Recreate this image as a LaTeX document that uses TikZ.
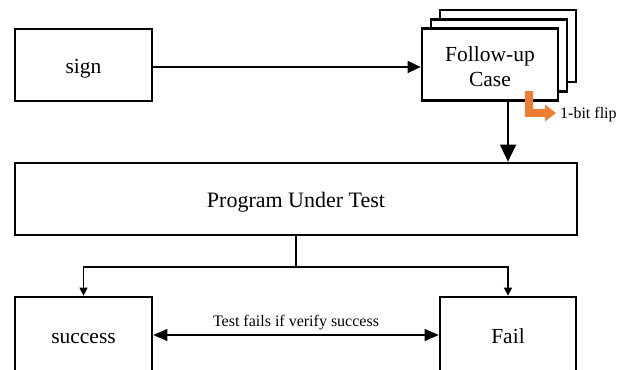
\documentclass[tikz,border=0pt]{standalone}
\usepackage{fontspec}
\setmainfont{Liberation Serif}
\usetikzlibrary{arrows.meta}
\definecolor{flip}{HTML}{ED7D31}
\tikzset{
  box/.style={draw=black, line width=2.7pt, fill=white, inner sep=0pt, font=\fontsize{21.5}{25}\selectfont, align=center, text height=16pt, text depth=0pt},
  label21/.style={inner sep=0pt, font=\fontsize{21.5}{25}\selectfont, align=center},
  conn/.style={draw=black, line width=1.2pt},
  bighead/.style={-{Triangle[length=17pt,width=16pt]}},
  midhead/.style={-{Triangle[length=13pt,width=12pt]}},
  smallhead/.style={-{Triangle[length=8pt,width=8pt]}},
  dblhead/.style={{Triangle[length=14pt,width=12pt]}-{Triangle[length=14pt,width=12pt]}},
  small/.style={font=\fontsize{16}{19}\selectfont, inner sep=0pt}
}
\begin{document}
\begin{tikzpicture}[x=1pt,y=-1pt]
\useasboundingbox (0,0) rectangle (628,369);
% nodes
\node[box, minimum width=137pt, minimum height=72pt] (sign) at (83.5,65) {sign};
\node[box, minimum width=136pt, minimum height=72pt] (back2) at (508,46) {};
\node[box, minimum width=136pt, minimum height=72pt] (back1) at (499,55.5) {};
\node[box, minimum width=136pt, minimum height=72pt] (follow) at (490,64.5) {};
\node[label21] (followtxt) at (490,66.5) {Follow-up\\Case};
\node[box, minimum width=562pt, minimum height=72pt, font=\fontsize{22}{25}\selectfont] (put) at (296,199) {Program Under Test};
\node[box, minimum width=137pt, minimum height=76pt] (succ) at (83.5,335) {success};
\node[box, minimum width=136pt, minimum height=76pt] (fail) at (508,335) {Fail};
\node[small, anchor=west] (flip) at (560,115) {1-bit flip};
\coordinate (oStart) at (529,91);
\coordinate (split) at (296,267);
% connectors
\draw[conn, midhead] ([yshift=-2pt]sign.east) -- ([yshift=-2.5pt]follow.west);
\draw[conn, bighead] (follow.south -| 508,0) -- (put.north -| 508,0);
\draw[conn, line width=1.8pt] (put.south) -- (split);
\draw[conn, smallhead] (split) -| (succ.north);
\draw[conn, smallhead] (split) -| (fail.north);
\draw[conn, dblhead] (succ.east) -- node[small, above=4pt] {Test fails if verify success} (fail.west);
\draw[flip, line width=8pt, -{Triangle[length=11pt,width=16pt]}] (oStart) |- ([xshift=-4pt,yshift=2pt]flip.west);
\end{tikzpicture}
\end{document}
